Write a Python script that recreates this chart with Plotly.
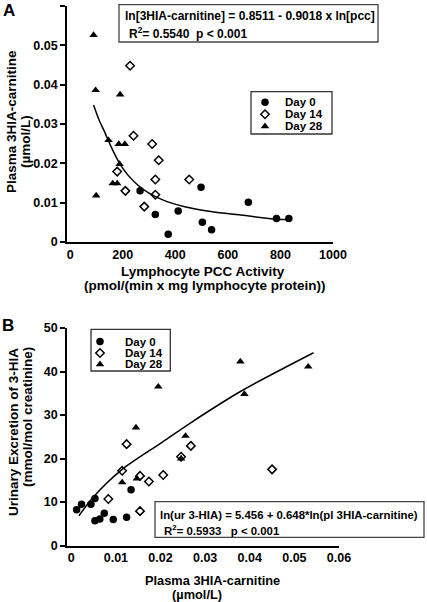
import plotly.graph_objects as go

W, H = 427, 602
FONT = "Liberation Sans, Arial, sans-serif"

# ---------------- Panel A data ----------------
a_day0_x = [266, 498, 324, 411, 503, 538, 373, 678, 785, 832]
a_day0_y = [0.0130, 0.0139, 0.0070, 0.0079, 0.0050, 0.0031, 0.0020, 0.0101, 0.0060, 0.0060]
a_day14_x = [228, 241, 312, 337, 179, 324, 453, 210, 324, 282]
a_day14_y = [0.0448, 0.0270, 0.0249, 0.0208, 0.0179, 0.0159, 0.0159, 0.0130, 0.0120, 0.0090]
a_day28_x = [89, 97, 190, 146, 185, 208, 188, 162, 179, 99]
a_day28_y = [0.0526, 0.0386, 0.0375, 0.0259, 0.0249, 0.0249, 0.0198, 0.0149, 0.0149, 0.0118]
a_fit_x = [89, 110, 131, 160, 188, 220, 257, 300, 352, 440, 541, 643, 785, 832]
a_fit_y = [0.0348, 0.0310, 0.0280, 0.0236, 0.0200, 0.0170, 0.0145, 0.0124, 0.0107, 0.0089, 0.0077, 0.0069, 0.0058, 0.0057]
a_xticks = [0, 200, 400, 600, 800, 1000]
a_xticklabels = ["0", "200", "400", "600", "800", "1000"]
a_yticks = [0, 0.01, 0.02, 0.03, 0.04, 0.05, 0.06]
a_yticklabels = ["0", "0.01", "0.02", "0.03", "0.04", "0.05", "0.06"]

# ---------------- Panel B data ----------------
b_day0_x = [0.0012, 0.0023, 0.0044, 0.0053, 0.0053, 0.0064, 0.0074, 0.0094, 0.0124, 0.0134]
b_day0_y = [8.2, 9.5, 9.5, 10.8, 5.7, 6.1, 7.4, 6.0, 6.5, 12.8]
b_day14_x = [0.0083, 0.0114, 0.0124, 0.0154, 0.0174, 0.0206, 0.0154, 0.0246, 0.0268, 0.0450]
b_day14_y = [10.7, 17.2, 23.3, 16.0, 14.7, 16.2, 7.9, 20.4, 22.9, 17.5]
b_day28_x = [0.0114, 0.0145, 0.0195, 0.0147, 0.0246, 0.0256, 0.0379, 0.0388, 0.0531]
b_day28_y = [14.5, 27.1, 36.5, 15.4, 20.0, 25.2, 42.3, 34.8, 41.1]
b_fit_x = [0.0017, 0.0050, 0.0114, 0.0200, 0.0266, 0.0379, 0.0543]
b_fit_y = [6.8, 11.2, 17.5, 23.5, 28.1, 35.4, 44.3]
b_xticks = [0, 0.01, 0.02, 0.03, 0.04, 0.05, 0.06]
b_xticklabels = ["0", "0.01", "0.02", "0.03", "0.04", "0.05", "0.06"]
b_yticks = [0, 10, 20, 30, 40, 50]
b_yticklabels = ["0", "10", "20", "30", "40", "50"]

series_names = ["Day 0", "Day 14", "Day 28"]
eq_a = ["ln[3HIA-carnitine] = 0.8511 - 0.9018 x ln[pcc]",
        "R<sup>2</sup>= 0.5540\u00a0\u00a0p &lt; 0.001"]
eq_b = ["ln(ur 3-HIA) = 5.456 + 0.648*ln(pl 3HIA-carnitine)",
        "R<sup>2</sup>= 0.5933\u00a0\u00a0\u00a0p &lt; 0.001"]

# ---------------- styling ----------------
M_CIRCLE = dict(symbol="circle", size=7.5, color="black")
M_DIAM = dict(symbol="diamond-open", size=6.5, color="black", line=dict(width=1.5, color="black"))
M_TRI = dict(symbol="triangle-up", size=7.5, color="black")
markers = [M_CIRCLE, M_DIAM, M_TRI]

fig = go.Figure()

def add_panel(xs_list, ys_list, fx, fy, xa, ya):
    fig.add_trace(go.Scatter(x=fx, y=fy, mode="lines", line=dict(color="black", width=1.5, shape="spline", smoothing=0.8),
                             xaxis=xa, yaxis=ya, showlegend=False, hoverinfo="skip"))
    for xs, ys, m, n in zip(xs_list, ys_list, markers, series_names):
        fig.add_trace(go.Scatter(x=xs, y=ys, mode="markers", marker=m, name=n,
                                 xaxis=xa, yaxis=ya, showlegend=False, cliponaxis=False))

add_panel([a_day0_x, a_day14_x, a_day28_x], [a_day0_y, a_day14_y, a_day28_y], a_fit_x, a_fit_y, "x", "y")
add_panel([b_day0_x, b_day14_x, b_day28_x], [b_day0_y, b_day14_y, b_day28_y], b_fit_x, b_fit_y, "x2", "y2")

def pxd(x0, x1):
    return [x0 / W, x1 / W]
def pyd(ytop, ybot):
    return [(H - ybot) / H, (H - ytop) / H]

leg_a = dict(x0=251, y0=91.7, x1=332, y1=134, mx=265, tx=283, rows=[102.3, 114.3, 126.3])
leg_b = dict(x0=91, y0=329.3, x1=170.3, y1=371, mx=100, tx=123, rows=[341.5, 353, 364.3])

# legend keys on a pixel overlay axis
for leg in (leg_a, leg_b):
    for m, row, n in zip(markers, leg["rows"], series_names):
        fig.add_trace(go.Scatter(x=[leg["mx"]], y=[row], mode="markers", marker=m, xaxis="x3", yaxis="y3",
                                 showlegend=False, hoverinfo="skip"))

tickfont = dict(family=FONT, size=12.5, color="black", weight="bold")
axis_common = dict(showline=True, linecolor="black", linewidth=1.6, showgrid=False, zeroline=False,
                   tickfont=tickfont, fixedrange=True, automargin=False)

fig.update_layout(
    template="none",
    width=W, height=H, margin=dict(l=0, r=0, t=0, b=0, pad=0), autosize=False,
    paper_bgcolor="white", plot_bgcolor="rgba(0,0,0,0)", showlegend=False,
    font=dict(family=FONT, color="black"),
    xaxis=dict(domain=pxd(67, 333), range=[-12, 1000], anchor="y", tickvals=a_xticks, ticktext=a_xticklabels,
               ticks="", **axis_common),
    yaxis=dict(domain=pyd(6, 242), range=[0, 0.06], anchor="x", tickvals=a_yticks, ticktext=a_yticklabels,
               ticks="outside", ticklen=5, tickwidth=1.6, tickcolor="black", **axis_common),
    xaxis2=dict(domain=pxd(67, 339), range=[-0.00096, 0.06], anchor="y2", tickvals=b_xticks, ticktext=b_xticklabels,
                ticks="", **axis_common),
    yaxis2=dict(domain=pyd(328, 545.5), range=[0, 50], anchor="x2", tickvals=b_yticks, ticktext=b_yticklabels,
                ticks="outside", ticklen=5, tickwidth=1.6, tickcolor="black", **axis_common),
    xaxis3=dict(domain=[0, 1], range=[0, W], anchor="y3", visible=False, fixedrange=True, automargin=False),
    yaxis3=dict(domain=[0, 1], range=[H, 0], anchor="x3", visible=False, fixedrange=True, automargin=False),
)

shapes = []
for leg in (leg_a, leg_b):
    shapes.append(dict(type="rect", xref="x3", yref="y3", x0=leg["x0"], y0=leg["y0"], x1=leg["x1"], y1=leg["y1"],
                       line=dict(color="#333", width=1.3), fillcolor="rgba(0,0,0,0)"))
shapes.append(dict(type="rect", xref="x3", yref="y3", x0=119, y0=4.7, x1=378, y1=42,
                   line=dict(color="#444", width=1.3)))
shapes.append(dict(type="rect", xref="x3", yref="y3", x0=155, y0=501.7, x1=424, y1=537.3,
                   line=dict(color="#444", width=1.3)))
fig.update_layout(shapes=shapes)

def ann(text, x, y, size, xanchor="center", angle=0):
    fig.add_annotation(text=text, x=x, y=y, xref="x3", yref="y3", showarrow=False, xanchor=xanchor,
                       yanchor="middle", textangle=angle,
                       font=dict(family=FONT, size=size, color="black", weight="bold"))

for leg in (leg_a, leg_b):
    for row, n in zip(leg["rows"], series_names):
        ann(n, leg["tx"], row, 11.5, xanchor="left")

ann(eq_a[0], 123, 16, 12, xanchor="left")
ann(eq_a[1], 127, 33, 12, xanchor="left")
ann(eq_b[0], 158, 515, 11.4, xanchor="left")
ann(eq_b[1], 162, 530, 11.4, xanchor="left")

ann("A", 9, 10, 17)
ann("B", 8, 325, 17)

ann("Plasma 3HIA-carnitine", 11, 122, 13.5, angle=-90)
ann("(\u00b5mol/L)", 25, 142, 13.5, angle=-90)
ann("Lymphocyte PCC Activity", 203, 271, 13.5)
ann("(pmol/(min x mg lymphocyte protein))", 205, 285, 13.5)

ann("Urinary Excretion of 3-HIA", 13, 432, 13.5, angle=-90)
ann("(mmol/mol creatinine)", 27, 417, 13.5, angle=-90)
ann("Plasma 3HIA-carnitine", 212, 580, 12.8)
ann("(\u00b5mol/L)", 197, 594.5, 12.8)

fig.write_html("out.html", config={"displayModeBar": False},
               post_script="document.body.style.margin='0';document.body.style.overflow='hidden';")
